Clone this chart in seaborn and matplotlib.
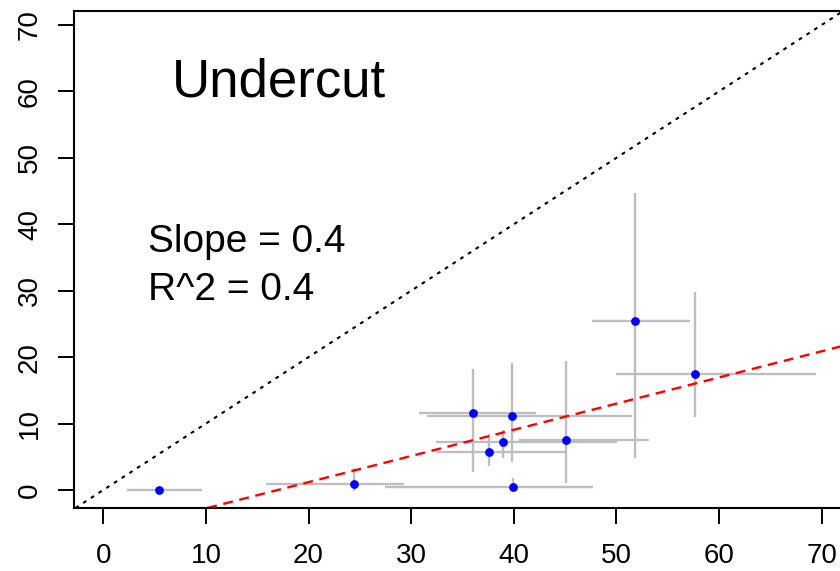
import matplotlib
matplotlib.use("Agg")
import matplotlib.pyplot as plt
import seaborn as sns
import numpy as np
import pandas as pd

# ---- data ----
x_mean = [51.84, 57.65, 36.07, 39.79, 38.99, 45.11, 37.61, 39.92, 24.46, 5.46]
y_mean = [25.44, 17.42, 11.54, 11.14, 7.18, 7.48, 5.68, 0.50, 0.90, 0.00]
x_low  = [47.65, 49.96, 30.76, 31.57, 32.42, 40.53, 32.51, 27.45, 15.85, 2.34]
x_high = [57.17, 69.44, 42.16, 51.49, 50.02, 53.17, 45.05, 47.69, 29.33, 9.60]
y_low  = [4.77, 10.94, 2.75, 4.14, 4.77, 1.10, 3.66, 0.30, -0.10, 0.00]
y_high = [44.66, 29.73, 18.17, 19.07, 9.03, 19.42, 8.43, 1.76, 3.27, 0.00]

fit_slope = 0.394
fit_intercept = -6.70

title_text = "Undercut"
stat_lines = ["Slope = 0.4", "R^2 = 0.4"]

x_ticks = [0, 10, 20, 30, 40, 50, 60, 70]
y_ticks = [0, 10, 20, 30, 40, 50, 60, 70]

df = pd.DataFrame({"x": x_mean, "y": y_mean,
                   "xlo": x_low, "xhi": x_high,
                   "ylo": y_low, "yhi": y_high})

sns.set_theme(style="white")
plt.rcParams["font.family"] = ["Liberation Sans", "DejaVu Sans"]

fig = plt.figure(figsize=(8.4, 5.71), dpi=100)
ax = fig.add_axes([74.3 / 840, (571 - 508) / 571, (850 - 74.3) / 840, (508 - 11) / 571])

# error bars
ax.hlines(df["y"], df["xlo"], df["xhi"], color="#BEBEBE", lw=1.7, zorder=1)
ax.vlines(df["x"], df["ylo"], df["yhi"], color="#BEBEBE", lw=1.7, zorder=1)

# points
sns.scatterplot(data=df, x="x", y="y", ax=ax, color="#0000FF", s=40,
                linewidth=0, zorder=3)

# reference lines
ax.axline((0, 0), slope=1, color="black", lw=1.5, dashes=(1.8, 2.6), zorder=2)
ax.axline((0, fit_intercept), slope=fit_slope, color="#FF0000", lw=1.7,
          dashes=(4.2, 2.8), zorder=2)

ax.set_xlim(-2.826, 72.76)
ax.set_ylim(-2.71, 72.1)
ax.set_xticks(x_ticks)
ax.set_yticks(y_ticks)
ax.set_xlabel("")
ax.set_ylabel("")

for side in ["left", "bottom", "top", "right"]:
    ax.spines[side].set_visible(True)
    ax.spines[side].set_color("black")
    ax.spines[side].set_linewidth(1.5)

ax.tick_params(axis="both", which="both", direction="out", length=11.5,
               width=1.4, color="black", labelsize=20, labelcolor="black")
ax.tick_params(axis="x", pad=13.5, bottom=True)
ax.tick_params(axis="y", pad=11, left=True, labelrotation=90)
for lab in ax.get_yticklabels():
    lab.set_va("center")

ax.text(17.1, 59.2, title_text, fontsize=38, ha="center", va="baseline",
        color="black")
ax.text(4.36, 35.8, stat_lines[0], fontsize=28, ha="left", va="baseline",
        color="black")
ax.text(4.36, 28.6, stat_lines[1], fontsize=28, ha="left", va="baseline",
        color="black")

fig.savefig("out.png", dpi=100)
